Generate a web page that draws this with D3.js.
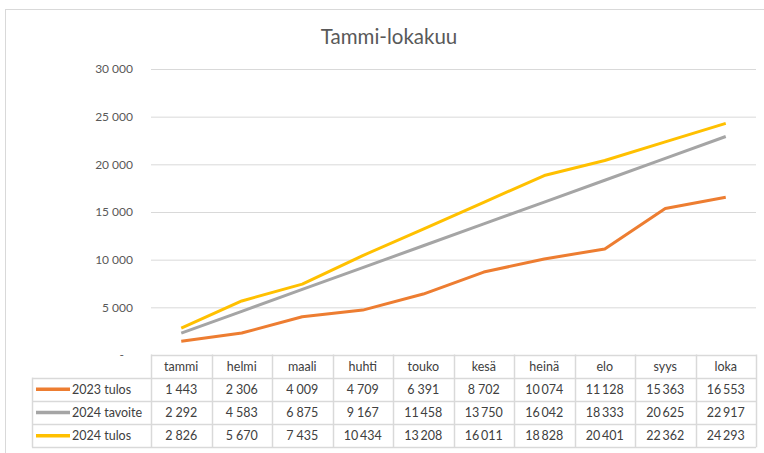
<!DOCTYPE html>
<html>
<head>
<meta charset="utf-8">
<script src="https://cdn.jsdelivr.net/npm/d3@7"></script>
<style>
  body { margin: 0; background: #fff; }
  svg { display: block; font-family: Lato, "Open Sans", sans-serif; }
</style>
</head>
<body>
<div id="chart"></div>
<script>
const months = ['tammi', 'helmi', 'maali', 'huhti', 'touko', 'kesä', 'heinä', 'elo', 'syys', 'loka'];
const tulos2023 = [1443, 2306, 4009, 4709, 6391, 8702, 10074, 11128, 15363, 16553];
const tavoite2024 = [2292, 4583, 6875, 9167, 11458, 13750, 16042, 18333, 20625, 22917];
const tulos2024 = [2826, 5670, 7435, 10434, 13208, 16011, 18828, 20401, 22362, 24293];
const yTicks = [0, 5000, 10000, 15000, 20000, 25000, 30000];

const series = [
  { name: '2023 tulos', values: tulos2023, color: '#ED7D31' },
  { name: '2024 tavoite', values: tavoite2024, color: '#A5A5A5' },
  { name: '2024 tulos', values: tulos2024, color: '#FFC000' }
];

const width = 764;
const height = 453;
const plot = { left: 151, right: 756, top: 69, bottom: 355 };
const legendLeft = 32;
const rowH = 23.2;

// Finnish style grouping
const fmt = v => d3.format(',')(v).replace(/,/g, ' ');
const fmtCell = v => d3.format(',')(v).replace(/,/g, v < 10000 ? ' ' : '\u2009');

const svg = d3.select('#chart')
  .append('svg')
  .attr('width', width)
  .attr('height', height);

// outer chart border
svg.append('rect')
  .attr('x', 5.5)
  .attr('y', 9.5)
  .attr('width', width + 10)
  .attr('height', height + 10)
  .attr('fill', '#fff')
  .attr('stroke', '#d9d9d9');

// title
svg.append('text')
  .attr('x', 389)
  .attr('y', 44)
  .attr('text-anchor', 'middle')
  .attr('fill', '#595959')
  .style('font-size', '20.5px')
  .text('Tammi-lokakuu');

const xScale = d3.scaleBand()
  .domain(months)
  .range([plot.left, plot.right]);

const yScale = d3.scaleLinear()
  .domain([0, 30000])
  .range([plot.bottom, plot.top]);

// y axis with gridlines
svg.append('g')
  .attr('class', 'y-axis')
  .attr('transform', 'translate(' + plot.left + ',0)')
  .call(d3.axisLeft(yScale).tickValues(yTicks).tickSize(0).tickPadding(18)
    .tickFormat(d => d === 0 ? '-' : fmt(d)))
  .call(g => g.select('.domain').remove())
  .call(g => g.selectAll('.tick text')
    .attr('fill', '#595959')
    .style('font-size', '12px')
    .style('font-family', 'Lato, sans-serif')
    .attr('dx', d => d === 0 ? -9 : 0))
  .call(g => g.selectAll('.tick')
    .filter(d => d > 0)
    .append('line')
    .attr('x2', plot.right - plot.left)
    .attr('stroke', '#d9d9d9'));

// lines
const line = d3.line()
  .x((d, i) => xScale(months[i]) + xScale.bandwidth() / 2)
  .y(d => yScale(d));

svg.selectAll('.series')
  .data(series)
  .join('path')
  .attr('class', 'series')
  .attr('d', d => line(d.values))
  .attr('fill', 'none')
  .attr('stroke', d => d.color)
  .attr('stroke-width', 3)
  .attr('stroke-linejoin', 'round');

// data table
const table = svg.append('g').attr('class', 'data-table');
const tableTop = plot.bottom - 0.5;
const gridColor = '#d9d9d9';

// header row
table.selectAll('.head')
  .data(months)
  .join('text')
  .attr('class', 'head')
  .attr('x', d => xScale(d) + xScale.bandwidth() / 2)
  .attr('y', tableTop + rowH / 2 + 4.5)
  .attr('text-anchor', 'middle')
  .attr('fill', '#404040')
  .style('font-size', '12.5px')
  .text(d => d);

// horizontal lines
const hLines = [0, 1, 2, 3, 4];
table.selectAll('.hline')
  .data(hLines)
  .join('line')
  .attr('class', 'hline')
  .attr('x1', d => d === 0 ? plot.left : legendLeft)
  .attr('x2', plot.right)
  .attr('y1', d => Math.round(tableTop + d * rowH) + 0.5)
  .attr('y2', d => Math.round(tableTop + d * rowH) + 0.5)
  .attr('stroke', gridColor)
  .attr('stroke-width', 1.5);

// vertical lines
const vEdges = months.map(m => xScale(m)).concat([plot.right]);
table.selectAll('.vline')
  .data(vEdges)
  .join('line')
  .attr('class', 'vline')
  .attr('x1', d => Math.round(d) + 0.5)
  .attr('x2', d => Math.round(d) + 0.5)
  .attr('y1', tableTop)
  .attr('y2', tableTop + 4 * rowH)
  .attr('stroke', gridColor)
  .attr('stroke-width', 1.5);

table.append('line')
  .attr('x1', legendLeft + 0.5)
  .attr('x2', legendLeft + 0.5)
  .attr('y1', tableTop + rowH)
  .attr('y2', tableTop + 4 * rowH)
  .attr('stroke', gridColor)
  .attr('stroke-width', 1.5);

// series rows
const rows = table.selectAll('.row')
  .data(series)
  .join('g')
  .attr('class', 'row')
  .attr('transform', (d, i) => 'translate(0,' + (tableTop + (i + 1) * rowH) + ')');

rows.append('line')
  .attr('x1', legendLeft + 4)
  .attr('x2', legendLeft + 38)
  .attr('y1', rowH / 2)
  .attr('y2', rowH / 2)
  .attr('stroke', d => d.color)
  .attr('stroke-width', 3.5);

rows.append('text')
  .attr('x', legendLeft + 40)
  .attr('y', rowH / 2 + 4.5)
  .attr('fill', '#404040')
  .style('font-size', '12.5px')
  .text(d => d.name);

rows.selectAll('.cell')
  .data(d => d.values)
  .join('text')
  .attr('class', 'cell')
  .attr('x', (d, i) => xScale(months[i]) + xScale.bandwidth() / 2)
  .attr('y', rowH / 2 + 4.5)
  .attr('text-anchor', 'middle')
  .attr('fill', '#404040')
  .style('font-size', '12.5px')
  .text(d => fmtCell(d));
</script>
</body>
</html>
